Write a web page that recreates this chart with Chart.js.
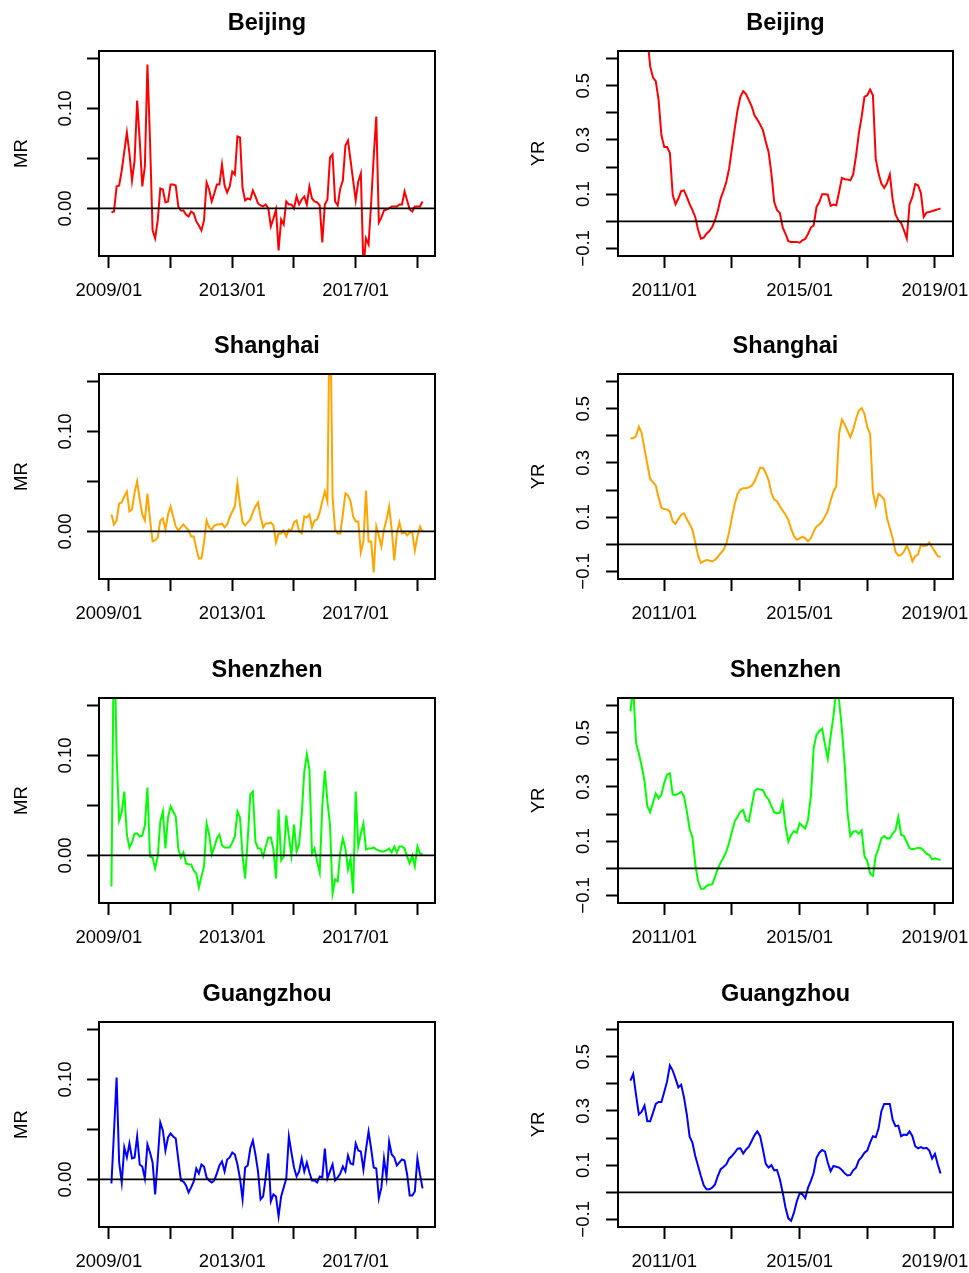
<!DOCTYPE html>
<html>
<head>
<meta charset="utf-8">
<script src="https://cdn.jsdelivr.net/npm/chart.js@4.4.1/dist/chart.umd.min.js"></script>
<style>
  html, body { margin: 0; padding: 0; background: #fff; overflow: hidden; }
  canvas { position: absolute; }
</style>
</head>
<body>
<script>
// ---- data ----
const cities = ["Beijing", "Shanghai", "Shenzhen", "Guangzhou"];
const mrStart = "2009/02";   // monthly returns start
const yrStart = "2010/01";   // yearly returns start

const bjMR = [-0.004, -0.003, 0.022, 0.023, 0.038, 0.057, 0.076, 0.055, 0.028, 0.048,
  0.108, 0.068, 0.022, 0.042, 0.144, 0.068, -0.022, -0.030, -0.012, 0.020,
  0.019, 0.006, 0.007, 0.024, 0.024, 0.023, 0.002, -0.002, -0.002, -0.006,
  -0.008, -0.003, -0.005, -0.013, -0.017, -0.022, -0.012, 0.026, 0.019, 0.007,
  0.015, 0.024, 0.024, 0.044, 0.023, 0.016, 0.022, 0.037, 0.034, 0.072,
  0.071, 0.020, 0.008, 0.010, 0.009, 0.018, 0.012, 0.005, 0.003, 0.002,
  0.004, 0.000, -0.018, -0.010, -0.001, -0.042, -0.011, -0.016, 0.007, 0.004,
  0.004, 0.000, 0.012, 0.004, 0.009, 0.012, 0.004, 0.022, 0.010, 0.007,
  0.006, 0.003, -0.034, 0.004, 0.009, 0.051, 0.054, 0.007, 0.003, 0.020,
  0.028, 0.063, 0.068, 0.048, 0.028, 0.008, 0.027, 0.035, -0.060, -0.030,
  -0.036, 0.005, 0.052, 0.092, -0.014, -0.009, -0.002, -0.001, 0.000, 0.002,
  0.002, 0.002, 0.004, 0.004, 0.017, 0.008, -0.001, -0.003, 0.002, 0.002,
  0.002, 0.007];
const shMR = [0.017, 0.007, 0.011, 0.028, 0.029, 0.035, 0.040, 0.020, 0.022, 0.039,
  0.050, 0.032, 0.017, 0.011, 0.038, 0.012, -0.010, -0.009, -0.006, 0.011,
  0.013, 0.002, 0.017, 0.025, 0.015, 0.005, 0.001, 0.004, 0.007, 0.004,
  0.001, -0.005, -0.005, -0.017, -0.027, -0.027, -0.011, 0.011, 0.004, 0.002,
  0.006, 0.007, 0.007, 0.008, 0.004, 0.007, 0.014, 0.020, 0.025, 0.048,
  0.027, 0.009, 0.006, 0.009, 0.012, 0.019, 0.025, 0.029, 0.015, 0.004,
  0.008, 0.008, 0.009, 0.006, -0.011, -0.002, -0.002, 0.001, -0.005, 0.002,
  0.001, 0.009, 0.011, 0.000, -0.002, 0.015, 0.014, 0.017, 0.004, 0.011,
  0.012, 0.019, 0.030, 0.040, 0.030, 0.250, 0.035, 0.001, -0.002, -0.002,
  0.017, 0.038, 0.036, 0.030, 0.015, 0.010, 0.010, -0.021, -0.010, 0.041,
  -0.010, -0.010, -0.041, 0.005, -0.004, -0.015, 0.002, 0.012, 0.025, 0.002,
  -0.029, -0.002, 0.009, -0.002, -0.001, -0.004, -0.001, -0.001, -0.019, -0.005,
  0.005, 0.000];
const szMR = [-0.031, 0.240, 0.100, 0.035, 0.043, 0.064, 0.021, 0.008, 0.013, 0.022,
  0.022, 0.019, 0.020, 0.030, 0.068, -0.001, -0.002, -0.013, -0.001, 0.034,
  0.044, 0.007, 0.038, 0.049, 0.044, 0.039, 0.007, -0.002, 0.003, -0.008,
  -0.009, -0.009, -0.015, -0.018, -0.032, -0.021, -0.011, 0.032, 0.021, 0.001,
  0.008, 0.017, 0.021, 0.010, 0.008, 0.008, 0.008, 0.013, 0.019, 0.044,
  0.038, -0.001, -0.023, 0.016, 0.061, 0.064, 0.014, 0.007, 0.007, -0.001,
  0.009, 0.018, 0.018, 0.006, -0.023, 0.046, -0.005, -0.001, 0.040, 0.019,
  0.000, 0.031, 0.004, 0.011, 0.041, 0.084, 0.101, 0.086, 0.002, 0.007,
  -0.006, -0.017, 0.049, 0.085, 0.054, 0.031, -0.038, -0.024, -0.026, 0.003,
  0.017, 0.007, -0.014, -0.003, -0.038, 0.064, 0.009, 0.022, 0.032, 0.006,
  0.007, 0.007, 0.008, 0.006, 0.005, 0.004, 0.004, 0.005, 0.007, 0.003,
  0.009, 0.003, 0.009, 0.009, 0.007, -0.001, -0.008, 0.000, -0.011, 0.009,
  0.002, 0.001];
const gzMR = [-0.004, 0.048, 0.102, 0.017, -0.003, 0.032, 0.022, 0.036, 0.021, 0.022,
  0.043, 0.015, 0.013, 0.001, 0.035, 0.027, 0.017, -0.015, 0.020, 0.057,
  0.049, 0.029, 0.042, 0.046, 0.043, 0.041, 0.020, -0.001, -0.002, -0.006,
  -0.013, -0.008, -0.002, 0.011, 0.006, 0.015, 0.013, 0.002, -0.001, -0.003,
  -0.001, 0.006, 0.014, 0.018, 0.008, 0.020, 0.022, 0.027, 0.025, 0.015,
  0.001, -0.020, 0.012, 0.014, 0.031, 0.039, 0.025, 0.008, -0.020, -0.017,
  0.002, 0.026, -0.022, -0.015, -0.017, -0.037, -0.017, -0.008, 0.001, 0.043,
  0.027, 0.012, 0.003, 0.008, 0.021, 0.008, 0.017, 0.007, -0.001, -0.001,
  -0.003, 0.003, 0.002, 0.031, 0.001, 0.008, 0.015, -0.001, 0.002, 0.006,
  0.013, 0.008, 0.024, 0.016, 0.015, 0.036, 0.029, 0.028, 0.010, 0.030,
  0.048, 0.031, 0.012, 0.011, -0.019, -0.008, 0.021, 0.002, 0.038, 0.025,
  0.022, 0.014, 0.017, 0.020, 0.019, 0.005, -0.016, -0.016, -0.012, 0.021,
  0.005, -0.009];

const bjYR = [0.85, 0.82, 0.80, 0.78, 0.75, 0.72, 0.68, 0.572, 0.530, 0.517,
  0.447, 0.317, 0.274, 0.274, 0.252, 0.098, 0.063, 0.084, 0.111, 0.114,
  0.090, 0.063, 0.041, 0.016, -0.031, -0.064, -0.060, -0.046, -0.036, -0.021,
  0.004, 0.038, 0.084, 0.112, 0.145, 0.194, 0.268, 0.342, 0.410, 0.459,
  0.480, 0.469, 0.447, 0.424, 0.391, 0.375, 0.357, 0.336, 0.293, 0.256,
  0.176, 0.071, 0.041, 0.031, -0.023, -0.046, -0.073, -0.076, -0.076, -0.076,
  -0.079, -0.070, -0.065, -0.046, -0.023, -0.015, 0.053, 0.071, 0.100, 0.100,
  0.098, 0.057, 0.062, 0.059, 0.108, 0.160, 0.155, 0.154, 0.151, 0.173,
  0.240, 0.323, 0.385, 0.459, 0.465, 0.486, 0.465, 0.231, 0.176, 0.139,
  0.123, 0.141, 0.173, 0.080, 0.025, 0.004, -0.006, -0.033, -0.064, 0.063,
  0.090, 0.137, 0.133, 0.105, 0.016, 0.032, 0.034, 0.038, 0.041, 0.044,
  0.047];
const shYR = [0.391, 0.391, 0.399, 0.434, 0.410, 0.352, 0.296, 0.241, 0.229, 0.216,
  0.173, 0.134, 0.130, 0.128, 0.121, 0.084, 0.075, 0.093, 0.108, 0.114,
  0.093, 0.075, 0.053, 0.007, -0.042, -0.069, -0.062, -0.058, -0.060, -0.063,
  -0.057, -0.046, -0.033, -0.021, 0.001, 0.044, 0.100, 0.149, 0.186, 0.202,
  0.207, 0.207, 0.210, 0.216, 0.231, 0.256, 0.282, 0.282, 0.263, 0.237,
  0.189, 0.165, 0.159, 0.140, 0.124, 0.109, 0.090, 0.057, 0.030, 0.017,
  0.022, 0.028, 0.022, 0.011, 0.023, 0.047, 0.066, 0.073, 0.084, 0.102,
  0.124, 0.161, 0.194, 0.214, 0.407, 0.460, 0.442, 0.419, 0.395, 0.423,
  0.462, 0.493, 0.502, 0.481, 0.432, 0.407, 0.192, 0.143, 0.186, 0.177,
  0.165, 0.096, 0.060, 0.022, -0.027, -0.042, -0.039, -0.027, -0.005, -0.027,
  -0.063, -0.044, -0.038, -0.002, -0.007, -0.005, 0.007, -0.011, -0.027, -0.044,
  -0.047];
const szYR = [0.579, 0.67, 0.463, 0.423, 0.377, 0.321, 0.229, 0.207, 0.242, 0.276,
  0.258, 0.272, 0.315, 0.346, 0.350, 0.272, 0.270, 0.275, 0.282, 0.266,
  0.211, 0.144, 0.115, 0.015, -0.047, -0.075, -0.075, -0.065, -0.061, -0.059,
  -0.032, -0.001, 0.021, 0.039, 0.061, 0.094, 0.134, 0.174, 0.190, 0.209,
  0.215, 0.178, 0.172, 0.229, 0.285, 0.293, 0.291, 0.288, 0.266, 0.254,
  0.229, 0.207, 0.202, 0.205, 0.244, 0.156, 0.098, 0.123, 0.137, 0.131,
  0.166, 0.156, 0.147, 0.180, 0.266, 0.444, 0.493, 0.506, 0.514, 0.456,
  0.404, 0.487, 0.561, 0.66, 0.62, 0.512, 0.383, 0.205, 0.119, 0.135,
  0.137, 0.128, 0.140, 0.045, 0.027, -0.020, -0.028, 0.045, 0.074, 0.110,
  0.119, 0.110, 0.110, 0.128, 0.140, 0.189, 0.123, 0.119, 0.097, 0.074,
  0.070, 0.072, 0.076, 0.074, 0.066, 0.054, 0.049, 0.033, 0.037, 0.033,
  0.031];
const gzYR = [0.412, 0.436, 0.358, 0.287, 0.297, 0.320, 0.262, 0.262, 0.293, 0.326,
  0.333, 0.333, 0.370, 0.409, 0.468, 0.449, 0.419, 0.387, 0.397, 0.350,
  0.287, 0.205, 0.183, 0.134, 0.097, 0.060, 0.026, 0.011, 0.011, 0.017,
  0.029, 0.060, 0.085, 0.093, 0.103, 0.124, 0.134, 0.146, 0.161, 0.162,
  0.143, 0.158, 0.168, 0.189, 0.210, 0.225, 0.207, 0.158, 0.105, 0.091,
  0.100, 0.081, 0.082, 0.048, -0.001, -0.056, -0.096, -0.105, -0.075, -0.034,
  -0.004, -0.007, -0.022, 0.017, 0.042, 0.072, 0.127, 0.146, 0.156, 0.150,
  0.109, 0.078, 0.097, 0.094, 0.091, 0.082, 0.070, 0.062, 0.064, 0.081,
  0.091, 0.118, 0.130, 0.146, 0.154, 0.183, 0.207, 0.203, 0.235, 0.299,
  0.326, 0.326, 0.326, 0.268, 0.244, 0.246, 0.207, 0.213, 0.211, 0.225,
  0.207, 0.170, 0.162, 0.167, 0.162, 0.164, 0.154, 0.124, 0.142, 0.103,
  0.069];

// tick marks and labels
const mrXTicks = ["2009/01", "2011/01", "2013/01", "2015/01", "2017/01", "2019/01"];
const mrXLabels = ["2009/01", "", "2013/01", "", "2017/01", ""];
const yrXTicks = ["2011/01", "2013/01", "2015/01", "2017/01", "2019/01"];
const yrXLabels = ["2011/01", "", "2015/01", "", "2019/01"];
const mrYTicks = [0, 0.05, 0.10, 0.15];
const mrYLabels = ["0.00", "", "0.10", ""];
const yrYTicks = [-0.1, 0, 0.1, 0.2, 0.3, 0.4, 0.5, 0.6];
const yrYLabels = ["\u22120.1", "", "0.1", "", "0.3", "", "0.5", ""];

const mrSeries = [bjMR, shMR, szMR, gzMR];
const yrSeries = [bjYR, shYR, szYR, gzYR];

// ---- style ----
const FONT = '"Liberation Sans", Arial, Helvetica, sans-serif';
const lineColors = ["#FF0000", "#FFA500", "#00FF00", "#0000FF"];
const rowTops = [0, 323, 647, 971];

function monthIndex(s) {
  const p = s.split("/").map(Number);
  return (p[0] - 2009) * 12 + (p[1] - 1);
}
function toPoints(start, values) {
  const s = monthIndex(start);
  return values.map((v, i) => ({ x: s + i, y: v }));
}
// R-style 4% range extension
function padRange(lo, hi) {
  const d = (hi - lo) * 0.04;
  return [lo - d, hi + d];
}

const rBox = {
  id: "rBox",
  afterDraw(chart) {
    const { ctx, chartArea: a } = chart;
    const y0 = chart.scales.y.getPixelForValue(0);
    ctx.save();
    ctx.strokeStyle = "#000";
    ctx.lineWidth = 1.8;
    ctx.beginPath();
    ctx.moveTo(a.left, y0);
    ctx.lineTo(a.right, y0);
    ctx.stroke();
    ctx.lineWidth = 2;
    ctx.strokeRect(a.left, a.top, a.right - a.left, a.bottom - a.top);
    ctx.restore();
  }
};

function panel(i, kind) {
  const isMR = kind === "MR";
  const start = isMR ? mrStart : yrStart;
  const values = (isMR ? mrSeries : yrSeries)[i];
  const xTickVals = (isMR ? mrXTicks : yrXTicks).map(monthIndex);
  const xLabels = isMR ? mrXLabels : yrXLabels;
  const yTickVals = isMR ? mrYTicks : yrYTicks;
  const yLabels = isMR ? mrYLabels : yrYLabels;
  const first = monthIndex(start);
  const xr = padRange(first, first + values.length - 1);
  const yr = isMR ? padRange(-0.04, 0.15) : padRange(-0.1, 0.6);

  const cv = document.createElement("canvas");
  const w = isMR ? 484 : 485;
  cv.width = w;
  cv.height = 300;
  cv.style.left = (isMR ? 0 : 484) + "px";
  cv.style.top = rowTops[i] + "px";
  document.body.appendChild(cv);

  new Chart(cv, {
    type: "line",
    data: {
      datasets: [{
        data: toPoints(start, values),
        borderColor: lineColors[i],
        borderWidth: 2,
        pointRadius: 0,
        tension: 0,
        fill: false,
        clip: 0
      }]
    },
    options: {
      responsive: false,
      animation: false,
      devicePixelRatio: 1,
      layout: { padding: { left: 0, top: 0, right: isMR ? 49 : 16, bottom: 0 } },
      plugins: {
        legend: { display: false },
        tooltip: { enabled: false },
        title: {
          display: true,
          text: cities[i],
          color: "#000",
          fullSize: false,
          font: { family: FONT, size: 23.5, weight: "bold", lineHeight: 1.2 },
          padding: { top: 9, bottom: 13.8 }
        }
      },
      scales: {
        x: {
          type: "linear",
          min: xr[0],
          max: xr[1],
          afterBuildTicks: s => { s.ticks = xTickVals.map(v => ({ value: v })); },
          afterFit: s => { s.height = 44; s.paddingLeft = 0; s.paddingRight = 0; },
          grid: { drawOnChartArea: false, tickLength: 12, tickWidth: 2, tickColor: "#000", color: "#000" },
          border: { display: false },
          ticks: {
            autoSkip: false, maxRotation: 0, minRotation: 0, padding: 12,
            color: "#000", font: { family: FONT, size: 18.5 },
            callback: v => { const k = xTickVals.indexOf(v); return k >= 0 ? xLabels[k] : ""; }
          }
        },
        y: {
          type: "linear",
          min: yr[0],
          max: yr[1],
          afterBuildTicks: s => { s.ticks = yTickVals.map(v => ({ value: v })); },
          afterFit: s => { s.width = isMR ? 99 : 134; s.paddingTop = 0; s.paddingBottom = 0; },
          grid: { drawOnChartArea: false, tickLength: 12, tickWidth: 2, tickColor: "#000", color: "#000" },
          border: { display: false },
          ticks: {
            autoSkip: false, minRotation: 90, maxRotation: 90, crossAlign: "center",
            padding: isMR ? 3.5 : 4.2,
            color: "#000", font: { family: FONT, size: 18.5 },
            callback: v => { const k = yTickVals.indexOf(v); return k >= 0 ? yLabels[k] : ""; }
          },
          title: {
            display: true,
            text: kind,
            color: "#000",
            font: { family: FONT, size: 18.5, lineHeight: 1.2 },
            padding: { top: isMR ? 10.4 : 43.9, bottom: 0 }
          }
        }
      }
    },
    plugins: [rBox]
  });
}

for (let i = 0; i < cities.length; i++) {
  panel(i, "MR");
  panel(i, "YR");
}
</script>
</body>
</html>
